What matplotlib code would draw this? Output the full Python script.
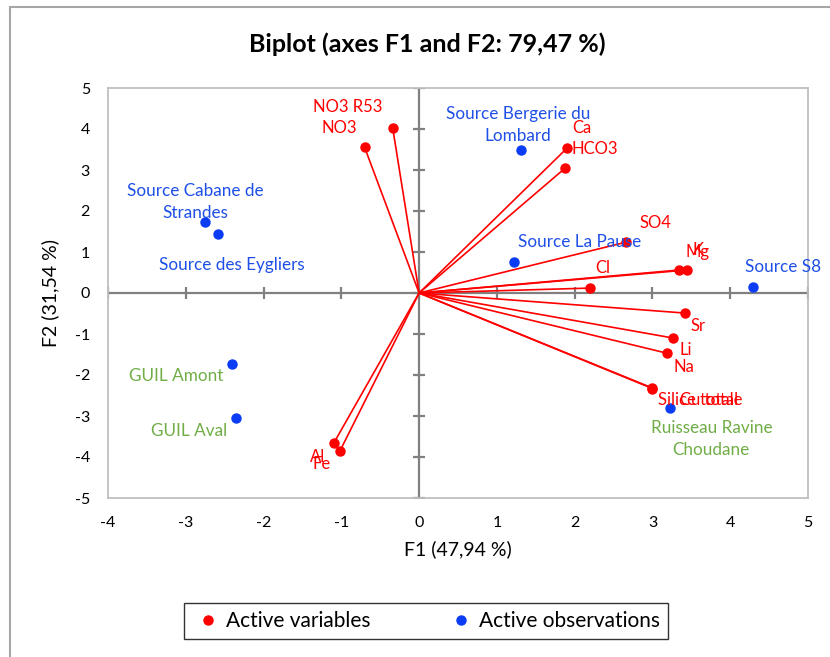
import matplotlib
matplotlib.use("Agg")
import matplotlib.pyplot as plt
from matplotlib.lines import Line2D
from matplotlib.patches import Rectangle

plt.rcParams['font.family'] = ['Lato', 'DejaVu Sans']
plt.rcParams['axes.unicode_minus'] = False

# active variables (F1, F2)
var_names = ["NO3 R53", "NO3", "Ca", "HCO3", "SO4", "K", "Mg", "Cl",
             "Sr", "Li", "Na", "Silice totale", "Cu total", "Al", "Fe"]
var_f1 = [-0.34, -0.70, 1.90, 1.88, 2.66, 3.34, 3.44, 2.20,
          3.42, 3.27, 3.19, 2.99, 3.00, -1.10, -1.02]
var_f2 = [4.03, 3.55, 3.53, 3.05, 1.24, 0.56, 0.56, 0.12,
          -0.49, -1.10, -1.47, -2.31, -2.33, -3.67, -3.86]

# active observations (F1, F2)
obs_names = ["Source Bergerie du\nLombard", "Source Cabane de\nStrandes",
             "Source des Eygliers", "Source La Pause", "Source S8",
             "GUIL Amont", "GUIL Aval", "Ruisseau Ravine\nChoudane"]
obs_f1 = [1.31, -2.75, -2.59, 1.22, 4.29, -2.40, -2.36, 3.23]
obs_f2 = [3.49, 1.73, 1.44, 0.76, 0.14, -1.73, -3.04, -2.80]
obs_group = ["source", "source", "source", "source", "source",
             "guil", "guil", "guil"]

# label offsets in pixels (dx, dy, ha)
var_off = {"NO3 R53": (-45, 21, "center"), "NO3": (-25, 19, "center"),
           "Ca": (15, 20, "center"), "HCO3": (29, 19, "center"),
           "SO4": (29, 19, "center"), "K": (19, 20, "center"),
           "Mg": (11, 18, "center"), "Cl": (13, 20, "center"),
           "Sr": (13, -13, "center"), "Li": (12, -12, "center"),
           "Na": (17, -14, "center"), "Silice totale": (6, -12, "left"),
           "Cu total": (28, -11, "left"), "Al": (-16, -14, "center"),
           "Fe": (-18, -13, "center")}
obs_off = [(-3, 25), (-10, 20), (14, -31), (66, 20), (30, 20),
           (-56, -12), (-46, -13), (41, -31)]

RED = "#FF0000"
BLUE = "#0B3CF5"
BLUE_TXT = "#1E4FE6"
GREEN = "#70AD47"
GRAY = "#808080"

fig = plt.figure(figsize=(8.3, 6.57), dpi=100)
ax = fig.add_axes([108 / 830, 1 - 498 / 657, 700 / 830, 410 / 657])

ax.set_xlim(-4, 5)
ax.set_ylim(-5, 5)
ax.set_xticks(range(-4, 6))
ax.set_yticks(range(-5, 6))
ax.tick_params(length=0, labelsize=11.5, pad=13)
for s in ax.spines.values():
    s.set_color("#BFBFBF")
    s.set_linewidth(1.3)

# centre axes with tick marks
ax.axhline(0, color=GRAY, lw=1.6, zorder=1)
ax.axvline(0, color=GRAY, lw=1.6, zorder=1)
xt = [t for t in range(-4, 6)]
yt = [t for t in range(-5, 6)]
ax.plot(xt, [0] * len(xt), ls="none", marker="|", ms=9, mew=1.6, color=GRAY, zorder=1)
ax.plot([0] * len(yt), yt, ls="none", marker="_", ms=9, mew=1.6, color=GRAY, zorder=1)

# variable vectors
for x, y in zip(var_f1, var_f2):
    ax.plot([0, x], [0, y], color=RED, lw=1.2, zorder=2)
ax.plot(var_f1, var_f2, ls="none", marker="o", ms=6.5, color=RED, zorder=3)
for n, x, y in zip(var_names, var_f1, var_f2):
    dx, dy, ha = var_off[n]
    ax.annotate(n, (x, y), xytext=(dx, dy), textcoords="offset pixels",
                ha=ha, va="center", color=RED, fontsize=12, zorder=4)

# observations
ax.plot(obs_f1, obs_f2, ls="none", marker="o", ms=6.5, color=BLUE, zorder=3)
for n, x, y, g, (dx, dy) in zip(obs_names, obs_f1, obs_f2, obs_group, obs_off):
    c = BLUE_TXT if g == "source" else GREEN
    ax.annotate(n, (x, y), xytext=(dx, dy), textcoords="offset pixels",
                ha="center", va="center", color=c, fontsize=12.3,
                linespacing=1.45, zorder=4)

ax.set_xlabel("F1 (47,94 %)", fontsize=14, labelpad=7)
ax.set_ylabel("F2 (31,54 %)", fontsize=14, labelpad=11)
fig.text(427 / 830, 1 - 44 / 657, "Biplot (axes F1 and F2: 79,47 %)",
         ha="center", va="center", fontsize=18, fontweight="bold")

# outer chart border
fig.patches.append(Rectangle((10 / 830, -0.1), 1.2, 1 - 7 / 657 + 0.1,
                             transform=fig.transFigure, fill=False,
                             edgecolor="#A6A6A6", lw=1.5))

handles = [Line2D([], [], ls="none", marker="o", ms=6.5, color=RED),
           Line2D([], [], ls="none", marker="o", ms=6.5, color=BLUE)]
leg = fig.legend(handles, ["Active variables", "Active observations"],
                 loc="center", bbox_to_anchor=(426 / 830, 1 - 621 / 657),
                 ncol=2, fontsize=15, frameon=True, fancybox=False,
                 edgecolor="black", handletextpad=0.1, columnspacing=3.6,
                 borderpad=0.4, handlelength=1.5, borderaxespad=0)
leg.get_frame().set_linewidth(1.0)

fig.savefig("out.png", dpi=100)
